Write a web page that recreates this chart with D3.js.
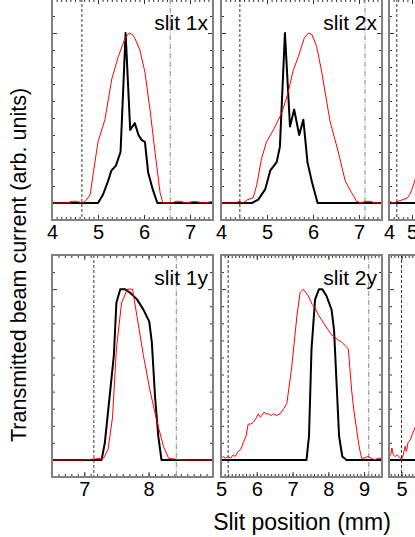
<!DOCTYPE html>
<html>
<head>
<meta charset="utf-8">
<script src="https://cdn.jsdelivr.net/npm/d3@7"></script>
<style>
  body { margin: 0; background: #fff; }
  text { font-family: "Liberation Sans", Arial, sans-serif; fill: #000; }
</style>
</head>
<body>
<div class="chart"></div>
<script>
// slit scans, transmitted current vs slit position

var panelLabels = ["slit 1x", "slit 2x", "", "slit 1y", "slit 2y", ""];
var xDomains = [[4, 7.5], [4, 7.5], [4, 11], [6.5, 9], [5, 9.5], [4.65, 9.15]];
var xTickLabels = [[4, 5, 6, 7], [4, 5, 6, 7], [4, 5, 6, 7], [7, 8], [5, 6, 7, 8, 9], [5, 6, 7, 8, 9]];
var minorSteps = [0.1, 0.1, 0.2, 0.1, 0.1, 0.1];
var yDomain = [-0.1, 1.2];
var dashedAt  = [4.65, 4.41, 4.34, 7.15, 5.2, 5.0];
var dashDotAt = [6.57, 7.13, null, 8.43, 9.13, null];

var slit1xBlack = [[4.0,0],[5.0,0],[5.11,0.05],[5.22,0.13],[5.29,0.19],[5.39,0.22],[5.49,0.30],[5.6,1.0],
  [5.70,0.43],[5.80,0.47],[5.88,0.40],[5.95,0.37],[6.02,0.36],[6.09,0.18],[6.19,0.08],[6.29,0],[7.5,0]];
var slit1xRed = [[4.0,0],[4.3,0],[4.45,0.01],[4.55,0.01],[4.65,0],[4.72,0.01],[4.78,0.03],[4.83,0.05],
  [4.9,0.18],[5.0,0.36],[5.15,0.49],[5.3,0.73],[5.44,0.86],[5.59,0.97],[5.68,1.0],[5.75,0.99],[5.8,0.97],
  [5.91,0.9],[6.02,0.77],[6.13,0.55],[6.24,0.30],[6.35,0.06],[6.41,0],[6.6,0],[6.7,0.01],[6.8,0.01],
  [6.9,0],[7.1,0.01],[7.3,0],[7.5,0.01]];

var slit2xBlack = [[4.0,0],[4.67,0],[4.81,0.02],[4.96,0.08],[5.07,0.19],[5.21,0.24],[5.28,0.33],[5.39,1.0],
  [5.5,0.45],[5.59,0.55],[5.7,0.40],[5.79,0.49],[5.88,0.24],[5.98,0.12],[6.1,0],[7.5,0]];
var slit2xRed = [[4.0,0],[4.2,0],[4.3,0],[4.4,0.01],[4.47,0],[4.58,0.02],[4.7,0.03],[4.78,0.11],[4.88,0.26],
  [4.99,0.36],[5.14,0.43],[5.32,0.53],[5.45,0.64],[5.57,0.78],[5.68,0.86],[5.81,0.97],[5.9,1.0],[5.98,0.99],
  [6.08,0.92],[6.19,0.77],[6.37,0.48],[6.55,0.30],[6.7,0.13],[6.84,0.06],[6.95,0.01],[7.05,0],[7.13,0.01],
  [7.25,0.01],[7.35,0],[7.5,0]];

var slit3xBlack = [[4.0,0],[11,0]];
var slit3xRed = [[4.0,0.01],[4.2,0],[4.4,0.01],[4.6,0.02],[4.8,0.03],[4.9,0.05],[5.0,0.08],[5.1,0.12],
  [5.2,0.17],[5.4,0.25],[5.6,0.35]];

var slit1yBlack = [[6.5,0],[7.27,0],[7.32,0.10],[7.40,0.39],[7.46,0.61],[7.5,0.92],[7.56,1.0],[7.63,1.0],
  [7.71,0.98],[7.82,0.94],[7.92,0.88],[8.01,0.81],[8.05,0.69],[8.1,0.37],[8.15,0.14],[8.2,0],[9,0]];
var slit1yRed = [[6.5,0],[7.0,0],[7.3,0.01],[7.37,0.06],[7.44,0.25],[7.5,0.65],[7.58,0.92],[7.67,1.0],
  [7.75,1.0],[7.82,0.84],[7.92,0.61],[8.02,0.41],[8.12,0.24],[8.23,0.08],[8.31,0.01],[8.5,0],[9,0]];

var slit2yBlack = [[5,0],[7.39,0],[7.46,0.14],[7.53,0.65],[7.63,0.94],[7.74,1.0],[7.83,1.0],[7.95,0.96],
  [8.09,0.88],[8.16,0.76],[8.23,0.45],[8.3,0.14],[8.39,0.02],[8.51,0],[9.5,0]];
var slit2yRed = [[5.0,0.01],[5.07,0.02],[5.12,0.01],[5.2,0.02],[5.27,0.01],[5.34,0.03],[5.4,0.02],[5.48,0.05],
  [5.55,0.06],[5.62,0.1],[5.7,0.14],[5.76,0.21],[5.83,0.21],[5.9,0.22],[5.97,0.24],[6.04,0.27],[6.1,0.25],
  [6.14,0.26],[6.2,0.28],[6.26,0.27],[6.32,0.27],[6.4,0.26],[6.46,0.27],[6.55,0.26],[6.65,0.27],[6.75,0.30],
  [6.84,0.33],[6.98,0.55],[7.12,0.84],[7.21,0.98],[7.3,1.0],[7.37,0.98],[7.44,0.96],[7.55,0.91],[7.63,0.89],
  [7.72,0.85],[7.81,0.82],[7.9,0.79],[8.0,0.76],[8.1,0.73],[8.18,0.72],[8.28,0.70],[8.37,0.69],[8.47,0.67],
  [8.56,0.65],[8.65,0.41],[8.72,0.28],[8.79,0.18],[8.86,0.08],[8.93,0.01],[9.0,0.01],[9.11,0.02],[9.2,0.01],
  [9.3,0],[9.38,0.01],[9.44,0.01],[9.5,0.01]];

var slit3yBlack = [[4.65,0],[9.15,0]];
var slit3yRed = [[4.65,0.02],[4.7,0.03],[4.73,0.07],[4.77,0.03],[4.82,0.02],[4.88,0.03],[4.93,0.02],[5.0,0],
  [5.05,0.03],[5.1,0.08],[5.14,0.05],[5.18,0.1],[5.25,0.12],[5.3,0.15],[5.4,0.2]];

var blackSeries = [slit1xBlack, slit2xBlack, slit3xBlack, slit1yBlack, slit2yBlack, slit3yBlack];
var redSeries   = [slit1xRed, slit2xRed, slit3xRed, slit1yRed, slit2yRed, slit3yRed];

var W = 415, H = 537;
var panelW = 161;
var colX = [52, 221, 389];
var rowY = [[-1, 220], [255, 477]];

var svg = d3.select(".chart").append("svg")
    .attr("width", W)
    .attr("height", H);

var defs = svg.append("defs");

for (var i = 0; i < 6; i++) {
    drawPanel(i);
}

function drawPanel(i) {
    var col = i % 3, row = Math.floor(i / 3);
    var x0 = colX[col], top = rowY[row][0], bottom = rowY[row][1];

    var x = d3.scaleLinear().domain(xDomains[i]).range([x0, x0 + panelW]);
    var y = d3.scaleLinear().domain(yDomain).range([bottom, top]);

    var g = svg.append("g").attr("class", "panel" + i);

    defs.append("clipPath").attr("id", "clip" + i)
      .append("rect")
        .attr("x", x0).attr("y", top)
        .attr("width", panelW).attr("height", bottom - top);

    var step = minorSteps[i];
    var minorX = d3.range(Math.ceil(xDomains[i][0] / step - 1e-6), Math.floor(xDomains[i][1] / step + 1e-6) + 1)
        .map(function(d) { return +(d * step).toFixed(2); });
    var majorX = minorX.filter(function(d) { return Math.abs(d - Math.round(d)) < 1e-6; });
    var minorY = d3.range(-1, 12).map(function(d) { return d / 10; }).filter(function(d) { return d !== 0 && d !== 1; });
    var majorY = [0, 1];

    // ticks (inward)
    function tickAxis(axis, transform) {
        var a = g.append("g").attr("transform", transform).call(axis);
        a.select(".domain").remove();
        a.selectAll(".tick line").attr("stroke", "#333").attr("stroke-width", 1);
        return a;
    }
    tickAxis(d3.axisBottom(x).tickValues(minorX).tickSize(-3).tickFormat(""), "translate(0," + bottom + ")");
    tickAxis(d3.axisTop(x).tickValues(minorX).tickSize(-3).tickFormat(""), "translate(0," + top + ")");
    var bx = tickAxis(d3.axisBottom(x).tickValues(xTickLabels[i]).tickSize(-5).tickPadding(5).tickFormat(d3.format("d")),
        "translate(0," + bottom + ")");
    bx.selectAll("text").attr("font-size", 20).attr("font-family", "Liberation Sans, Arial, sans-serif").attr("fill", "#000");
    tickAxis(d3.axisTop(x).tickValues(majorX).tickSize(-5).tickFormat(""), "translate(0," + top + ")");
    tickAxis(d3.axisLeft(y).tickValues(minorY).tickSize(-3).tickFormat(""), "translate(" + x0 + ",0)");
    tickAxis(d3.axisRight(y).tickValues(minorY).tickSize(-3).tickFormat(""), "translate(" + (x0 + panelW) + ",0)");
    tickAxis(d3.axisLeft(y).tickValues(majorY).tickSize(-5).tickFormat(""), "translate(" + x0 + ",0)");
    tickAxis(d3.axisRight(y).tickValues(majorY).tickSize(-5).tickFormat(""), "translate(" + (x0 + panelW) + ",0)");

    var plot = g.append("g").attr("clip-path", "url(#clip" + i + ")");

    // slit edges
    plot.append("line")
        .attr("x1", x(dashedAt[i])).attr("x2", x(dashedAt[i]))
        .attr("y1", top).attr("y2", bottom)
        .attr("stroke", "#000").attr("stroke-width", 0.8)
        .attr("stroke-dasharray", "3,2");
    if (dashDotAt[i] !== null) {
        plot.append("line")
            .attr("x1", x(dashDotAt[i])).attr("x2", x(dashDotAt[i]))
            .attr("y1", top).attr("y2", bottom)
            .attr("stroke", "#888").attr("stroke-width", 1)
            .attr("stroke-dasharray", "5,1.5,1,1.5");
    }

    var line = d3.line()
        .x(function(d) { return x(d[0]); })
        .y(function(d) { return y(d[1]); });

    plot.append("path")
        .datum(blackSeries[i])
        .attr("d", line)
        .attr("fill", "none")
        .attr("stroke", "#000")
        .attr("stroke-width", 2)
        .attr("stroke-linejoin", "round");

    plot.append("path")
        .datum(redSeries[i])
        .attr("d", line)
        .attr("fill", "none")
        .attr("stroke", "#ff0000")
        .attr("stroke-width", 1)
        .attr("stroke-linejoin", "round");

    // frame
    g.append("rect")
        .attr("x", x0).attr("y", top)
        .attr("width", panelW).attr("height", bottom - top)
        .attr("fill", "none")
        .attr("stroke", "#808080")
        .attr("stroke-width", 2);

    if (panelLabels[i]) {
        g.append("text")
            .attr("x", x0 + 156)
            .attr("y", top + (row === 0 ? 31 : 30))
            .attr("text-anchor", "end")
            .attr("font-size", 21)
            .text(panelLabels[i]);
    }
}

svg.append("text")
    .attr("x", 302)
    .attr("y", 530)
    .attr("text-anchor", "middle")
    .attr("font-size", 23)
    .text("Slit position (mm)");

svg.append("text")
    .attr("transform", "translate(26,265) rotate(-90)")
    .attr("text-anchor", "middle")
    .attr("font-size", 21.5)
    .text("Transmitted beam current (arb. units)");
</script>
</body>
</html>
